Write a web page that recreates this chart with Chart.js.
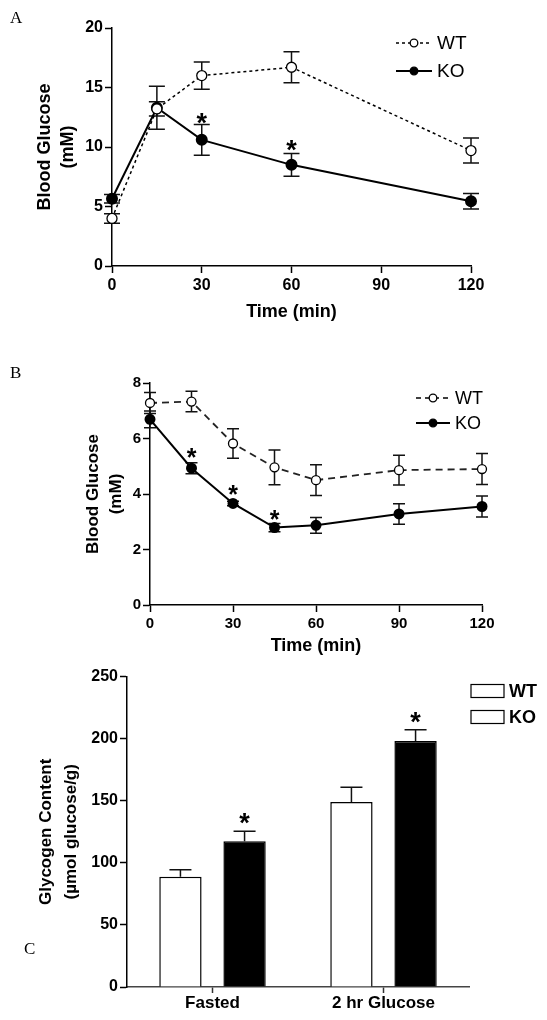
<!DOCTYPE html>
<html>
<head>
<meta charset="utf-8">
<script src="https://cdn.jsdelivr.net/npm/chart.js@4.4.1/dist/chart.umd.min.js"></script>
<style>
  body { margin: 0; background: #fff; width: 547px; height: 1020px; position: relative; overflow: hidden; }
  .panel { position: absolute; left: 0; width: 547px; }
  .tag { position: absolute; font-family: "Liberation Serif"; font-size: 17px; line-height: 17px; color: #000; }
</style>
</head>
<body>
<div class="panel" style="top:0;height:345px"><canvas id="chartA"></canvas></div>
<div class="panel" style="top:345px;height:320px"><canvas id="chartB"></canvas></div>
<div class="panel" style="top:665px;height:355px"><canvas id="chartC"></canvas></div>
<div class="tag" style="left:10px;top:9px">A</div>
<div class="tag" style="left:10px;top:364px">B</div>
<div class="tag" style="left:24px;top:940px">C</div>

<script>
// Panel A - glucose tolerance
const timesA = [0, 15, 30, 60, 120];
const wtA = [4.0, 13.2, 16.0, 16.7, 9.7];
const wtA_err = [0.4, 0.6, 1.15, 1.3, 1.05];
const koA = [5.65, 13.3, 10.6, 8.5, 5.45];
const koA_err = [0.35, 1.8, 1.3, 0.95, 0.65];
const starsA_x = [30, 60];
const starsA_y = [12.4, 10.1];

// Panel B - insulin tolerance
const timesB = [0, 15, 30, 45, 60, 90, 120];
const wtB = [7.28, 7.33, 5.82, 4.96, 4.5, 4.86, 4.9];
const wtB_err = [0.38, 0.37, 0.53, 0.63, 0.55, 0.54, 0.56];
const koB = [6.69, 4.93, 3.66, 2.79, 2.87, 3.28, 3.55];
const koB_err = [0.3, 0.2, 0.08, 0.15, 0.28, 0.37, 0.38];
const starsB_x = [15, 30, 45];
const starsB_y = [5.46, 4.13, 3.23];

// Panel C - glycogen
const groupsC = ["Fasted", "2 hr Glucose"];
const wtC = [88.8, 149.1];
const wtC_err = [5.7, 11.7];
const koC = [117.4, 198.2];
const koC_err = [8, 9];
const starsC_idx = [0, 1];
const starsC_y = [136, 217];

Chart.defaults.font.family = '"Liberation Sans", Arial, sans-serif';
Chart.defaults.color = "#000";
Chart.defaults.animation = false;

const toXY = (xs, ys) => xs.map((x, i) => ({ x, y: ys[i] }));

const errorBars = {
  id: "errorBars",
  beforeDatasetsDraw(chart, args, opts) {
    const ctx = chart.ctx;
    const ys = chart.scales.y;
    chart.data.datasets.forEach((ds, i) => {
      if (!ds.errors) return;
      const meta = chart.getDatasetMeta(i);
      ctx.save();
      ctx.strokeStyle = "#111";
      ctx.lineWidth = 1.5;
      meta.data.forEach((el, j) => {
        const d = ds.data[j];
        const v = typeof d === "object" ? d.y : d;
        const top = ys.getPixelForValue(v + ds.errors[j]);
        const bot = opts.upOnly ? ys.getPixelForValue(v) : ys.getPixelForValue(v - ds.errors[j]);
        const x = el.x, hw = opts.cap;
        ctx.beginPath();
        ctx.moveTo(x, top); ctx.lineTo(x, bot);
        ctx.moveTo(x - hw, top); ctx.lineTo(x + hw, top);
        if (!opts.upOnly) { ctx.moveTo(x - hw, bot); ctx.lineTo(x + hw, bot); }
        ctx.stroke();
      });
      ctx.restore();
    });
  },
};

const stars = {
  id: "stars",
  afterDatasetsDraw(chart, args, opts) {
    const ctx = chart.ctx;
    ctx.save();
    ctx.fillStyle = "#000";
    ctx.font = `bold ${opts.size}px "Liberation Sans"`;
    ctx.textAlign = "center";
    ctx.textBaseline = "alphabetic";
    opts.ys.forEach((yv, k) => {
      const x = opts.dataset != null
        ? chart.getDatasetMeta(opts.dataset).data[opts.xs[k]].x
        : chart.scales.x.getPixelForValue(opts.xs[k]);
      const y = chart.scales.y.getPixelForValue(yv);
      ctx.fillText("*", x, y + opts.size * 0.5);
    });
    ctx.restore();
  },
};

// hand drawn legend, placed like the original figure
const keyLegend = {
  id: "keyLegend",
  afterDraw(chart, args, opts) {
    const ctx = chart.ctx;
    ctx.save();
    opts.items.forEach((it) => {
      ctx.strokeStyle = "#000";
      if (it.box) {
        ctx.lineWidth = 1.2;
        ctx.fillStyle = "#fff";
        ctx.fillRect(it.x0, it.y - 6.5, it.x1 - it.x0, 13);
        ctx.strokeRect(it.x0, it.y - 6.5, it.x1 - it.x0, 13);
      } else {
        ctx.lineWidth = it.lw;
        ctx.setLineDash(it.dash);
        ctx.beginPath();
        ctx.moveTo(it.x0, it.y); ctx.lineTo(it.x1, it.y);
        ctx.stroke();
        ctx.setLineDash([]);
        ctx.lineWidth = 1.3;
        ctx.fillStyle = it.fill;
        ctx.beginPath();
        ctx.arc((it.x0 + it.x1) / 2, it.y, it.r, 0, Math.PI * 2);
        ctx.fill();
        ctx.stroke();
      }
      ctx.fillStyle = "#000";
      ctx.font = `${it.bold ? "bold " : ""}${it.size}px "Liberation Sans"`;
      ctx.textAlign = "left";
      ctx.textBaseline = "middle";
      ctx.fillText(it.label, it.x1 + 5, it.y + 1);
    });
    ctx.restore();
  },
};

function axisStyle() {
  return {
    grid: { drawOnChartArea: false, drawTicks: true, tickLength: 7, tickColor: "#000", tickWidth: 1.5 },
    border: { display: true, color: "#000", width: 1.5 },
  };
}

// ---- A ----
new Chart(document.getElementById("chartA"), {
  type: "line",
  data: {
    datasets: [
      {
        label: "WT", data: toXY(timesA, wtA), errors: wtA_err,
        borderColor: "#000", borderWidth: 1.5, borderDash: [3, 3],
        pointRadius: 5, pointBackgroundColor: "#fff", pointBorderColor: "#000", pointBorderWidth: 1.3,
        clip: false,
      },
      {
        label: "KO", data: toXY(timesA, koA), errors: koA_err,
        borderColor: "#000", borderWidth: 2,
        pointRadius: 5, pointBackgroundColor: "#000", pointBorderColor: "#000",
        clip: false,
      },
    ],
  },
  options: {
    responsive: true, maintainAspectRatio: false,
    layout: { padding: { left: 0, top: 28, right: 76, bottom: 0 } },
    plugins: {
      legend: { display: false }, tooltip: { enabled: false },
      errorBars: { cap: 8 },
      stars: { xs: starsA_x, ys: starsA_y, size: 27 },
      keyLegend: { items: [
        { label: "WT", x0: 396, x1: 432, y: 43, lw: 1.5, dash: [3, 3], fill: "#fff", r: 3.8, size: 19 },
        { label: "KO", x0: 396, x1: 432, y: 71, lw: 2, dash: [], fill: "#000", r: 3.8, size: 19 },
      ] },
    },
    scales: {
      x: {
        type: "linear", min: 0, max: 120,
        afterFit: (s) => { s.height = 79; },
        ticks: { stepSize: 30, font: { size: 16, weight: "bold" }, padding: 3 },
        title: { display: true, text: "Time (min)", font: { size: 18, weight: "bold" }, padding: { bottom: 22 } },
        ...axisStyle(),
      },
      y: {
        min: 0, max: 20,
        afterFit: (s) => { s.width = 112; },
        ticks: { stepSize: 5, font: { size: 16, weight: "bold" }, padding: 2 },
        title: { display: true, text: ["Blood Glucose", "(mM)"], font: { size: 18, weight: "bold", lineHeight: 1.25 }, padding: { top: 34 } },
        ...axisStyle(),
      },
    },
  },
  plugins: [errorBars, stars, keyLegend],
});

// ---- B ----
new Chart(document.getElementById("chartB"), {
  type: "line",
  data: {
    datasets: [
      {
        label: "WT", data: toXY(timesB, wtB), errors: wtB_err,
        borderColor: "#222", borderWidth: 1.8, borderDash: [7, 5],
        pointRadius: 4.5, pointBackgroundColor: "#fff", pointBorderColor: "#000", pointBorderWidth: 1.3,
        clip: false,
      },
      {
        label: "KO", data: toXY(timesB, koB), errors: koB_err,
        borderColor: "#000", borderWidth: 2,
        pointRadius: 4.5, pointBackgroundColor: "#000", pointBorderColor: "#000",
        clip: false,
      },
    ],
  },
  options: {
    responsive: true, maintainAspectRatio: false,
    layout: { padding: { left: 0, top: 38, right: 65, bottom: 0 } },
    plugins: {
      legend: { display: false }, tooltip: { enabled: false },
      errorBars: { cap: 6 },
      stars: { xs: starsB_x, ys: starsB_y, size: 25 },
      keyLegend: { items: [
        { label: "WT", x0: 416, x1: 450, y: 53, lw: 1.5, dash: [5, 4], fill: "#fff", r: 3.8, size: 18 },
        { label: "KO", x0: 416, x1: 450, y: 78, lw: 2, dash: [], fill: "#000", r: 3.8, size: 18 },
      ] },
    },
    scales: {
      x: {
        type: "linear", min: 0, max: 120,
        afterFit: (s) => { s.height = 60; },
        ticks: { stepSize: 30, font: { size: 15, weight: "bold" }, padding: 3 },
        title: { display: true, text: "Time (min)", font: { size: 18, weight: "bold" }, padding: { bottom: 8 } },
        ...axisStyle(),
      },
      y: {
        min: 0, max: 8,
        afterFit: (s) => { s.width = 150; },
        ticks: { stepSize: 2, font: { size: 15, weight: "bold" }, padding: 2 },
        title: { display: true, text: ["Blood Glucose", "(mM)"], font: { size: 17, weight: "bold", lineHeight: 1.35 }, padding: { top: 82 } },
        ...axisStyle(),
      },
    },
  },
  plugins: [errorBars, stars, keyLegend],
});

// ---- C ----
new Chart(document.getElementById("chartC"), {
  type: "bar",
  data: {
    labels: groupsC,
    datasets: [
      { label: "WT", data: wtC, errors: wtC_err, backgroundColor: "#fff", borderColor: "#000", borderWidth: 1.5 },
      { label: "KO", data: koC, errors: koC_err, backgroundColor: "#000", borderColor: "#000", borderWidth: 1.5 },
    ],
  },
  options: {
    responsive: true, maintainAspectRatio: false,
    categoryPercentage: 0.75, barPercentage: 0.66,
    layout: { padding: { left: 0, top: 9, right: 78, bottom: 0 } },
    plugins: {
      legend: { display: false }, tooltip: { enabled: false },
      errorBars: { cap: 11, upOnly: true },
      stars: { xs: starsC_idx, ys: starsC_y, size: 27, dataset: 1 },
      keyLegend: { items: [
        { label: "WT", x0: 471, x1: 504, y: 26, box: true, size: 18, bold: true },
        { label: "KO", x0: 471, x1: 504, y: 52, box: true, size: 18, bold: true },
      ] },
    },
    scales: {
      x: {
        afterFit: (s) => { s.height = 33; },
        ticks: { font: { size: 17, weight: "bold" }, padding: 0 },
        grid: { offset: false, drawOnChartArea: false, drawTicks: true, tickLength: 6, tickColor: "#333", tickWidth: 1.5 },
        border: { display: true, color: "#444", width: 1.5 },
      },
      y: {
        min: 0, max: 250,
        afterFit: (s) => { s.width = 127; },
        ticks: { stepSize: 50, font: { size: 16, weight: "bold" }, padding: 2 },
        title: { display: true, text: ["Glycogen Content", "(\u00b5mol glucose/g)"], font: { size: 17, weight: "bold", lineHeight: 1.45 }, padding: { top: 34 } },
        ...axisStyle(),
      },
    },
  },
  plugins: [errorBars, stars, keyLegend],
});
</script>
</body>
</html>
